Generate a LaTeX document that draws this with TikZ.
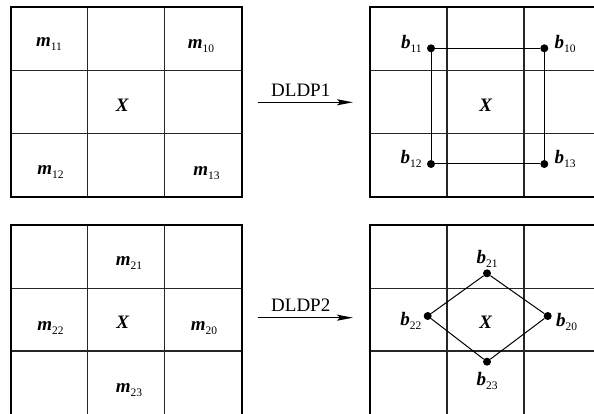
\documentclass[tikz,border=0pt]{standalone}
\usepackage{fontspec}
\setmainfont{Liberation Serif}
\usetikzlibrary{arrows.meta,positioning}

\newcommand{\cellname}[2]{\textbf{\textit{#1}}\raisebox{-4pt}{\fontsize{11.5}{12}\selectfont #2}}

\begin{document}
\begin{tikzpicture}[x=1pt, y=-1pt,
  lbl/.style={inner sep=0pt, font=\fontsize{19}{22}\selectfont},
  frame/.style={line width=2pt},
  cellline/.style={line width=1.3pt, black!85},
  dot/.style={circle, fill, inner sep=0pt, minimum size=8pt},
  link/.style={line width=1pt},
  arr/.style={-{Stealth[length=16pt, width=6pt, inset=3pt]}, line width=1.4pt}
]
\useasboundingbox (0,0) rectangle (594,414);
\clip (0,0) rectangle (594,414);

% the four 3x3 windows
\foreach \ox/\oy in {10.7/7.3, 370/7.3, 10.7/225, 370/225} {
  \draw[cellline] (\ox+77,\oy) -- ++(0,190) (\ox+154,\oy) -- ++(0,190)
    (\ox,\oy+63.5) -- ++(231,0) (\ox,\oy+126) -- ++(231,0);
  \draw[frame] (\ox,\oy) rectangle ++(231,190);
}

% left windows
\node[lbl, anchor=base] (m11) at (49,46.7) {\cellname{m}{11}};
\node[lbl, anchor=base] (m10) at (201,48.5) {\cellname{m}{10}};
\node[lbl, anchor=base] (x1) at (122.5,112) {\textbf{\textit{X}}};
\node[lbl, anchor=base] (m12) at (50.5,175) {\cellname{m}{12}};
\node[lbl, anchor=base] (m13) at (206.5,176) {\cellname{m}{13}};

\node[lbl, anchor=base] (m21) at (129,265) {\cellname{m}{21}};
\node[lbl, anchor=base] (m22) at (50.5,330.7) {\cellname{m}{22}};
\node[lbl, anchor=base] (x2) at (123,328.3) {\textbf{\textit{X}}};
\node[lbl, anchor=base] (m20) at (204,330.7) {\cellname{m}{20}};
\node[lbl, anchor=base] (m23) at (129,392.7) {\cellname{m}{23}};

% operators
\coordinate (d1s) at (258,102.3);
\coordinate (d1e) at (353,102.3);
\coordinate (d2s) at (258,317.7);
\coordinate (d2e) at (353,317.7);
\draw[arr] (d1s) -- node[pos=.45, above=5pt, lbl] (op1) {DLDP1} (d1e);
\draw[arr] (d2s) -- node[pos=.45, above=5pt, lbl] (op2) {DLDP2} (d2e);

% right windows: sampled points
\node[lbl, anchor=base] (x3) at (486,112) {\textbf{\textit{X}}};
\node[dot] (b11) at (431,48.3) {};
\node[dot] (b10) at (544.3,48.3) {};
\node[dot] (b12) at (431,164) {};
\node[dot] (b13) at (544.3,164) {};
\node[lbl, base left=5pt of b11] (l11) {\cellname{b}{11}};
\node[lbl, base right=6pt of b10] (l10) {\cellname{b}{10}};
\node[lbl, base left=5pt of b12] (l12) {\cellname{b}{12}};
\node[lbl, base right=6pt of b13] (l13) {\cellname{b}{13}};
\draw[link] (b11) -- (b10) -- (b13) -- (b12) -- (b11);

\node[lbl, anchor=base] (x4) at (486,328.3) {\textbf{\textit{X}}};
\node[dot] (b21) at (487,273.3) {};
\node[dot] (b22) at (427.7,316) {};
\node[dot] (b20) at (547.7,316) {};
\node[dot] (b23) at (487,361.7) {};
\node[lbl, above=1pt of b21] (l21) {\cellname{b}{21}};
\node[lbl, base left=2pt of b22, yshift=-9pt] (l22) {\cellname{b}{22}};
\node[lbl, base right=4pt of b20, yshift=-10pt] (l20) {\cellname{b}{20}};
\node[lbl, below=6pt of b23] (l23) {\cellname{b}{23}};
\draw[link] (b21) -- (b20) -- (b23) -- (b22) -- (b21);
\end{tikzpicture}
\end{document}
